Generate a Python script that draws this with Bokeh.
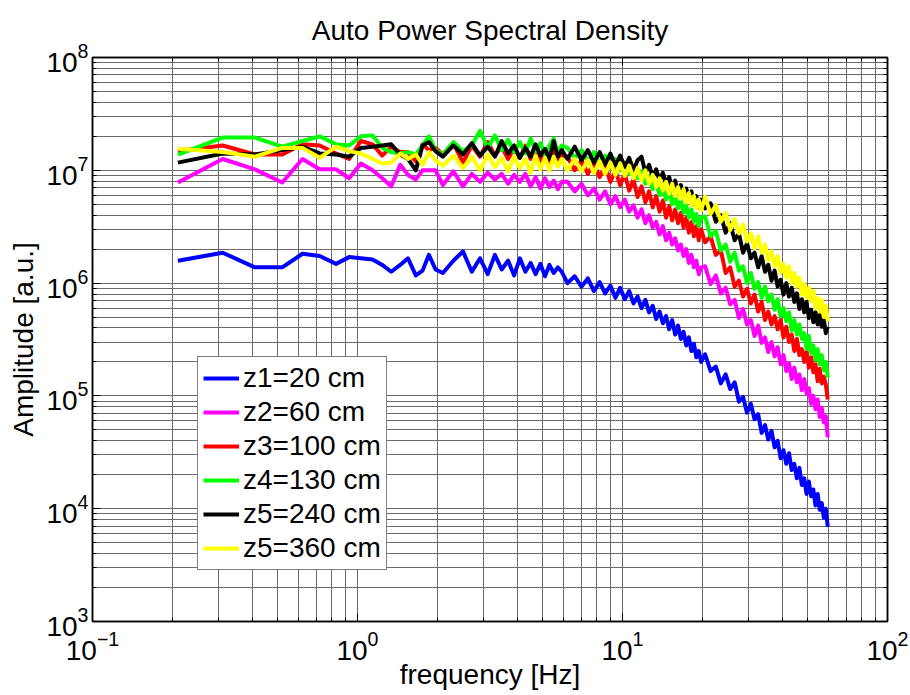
from bokeh.plotting import figure
from bokeh.models import LogAxis, Legend, LegendItem, FixedTicker, CustomJSTickFormatter
from bokeh.embed import file_html
from bokeh.resources import INLINE

# ---------------- data ----------------
frequency_hz = [
    0.21, 0.31, 0.41, 0.52, 0.62, 0.72, 0.83, 0.93, 1.03, 1.14, 1.24, 1.34, 1.45, 1.55, 1.66, 1.76, 1.86, 1.97,
    2.1, 2.3, 2.5, 2.7, 2.9, 3.1, 3.3, 3.5, 3.7, 3.9, 4.1, 4.3, 4.5, 4.7, 4.9, 5.1, 5.3, 5.5, 5.7, 5.9,
    6.2, 6.6, 7.0, 7.4, 7.8, 8.2, 8.6, 9.0, 9.4, 9.8, 10.2, 10.6, 11.0, 11.4, 11.8, 12.2, 12.6, 13.0, 13.4, 13.8,
    14.2, 14.6, 15.0, 15.4, 15.8, 16.2, 16.6, 17.0, 17.4, 17.8, 18.2, 18.6, 19.0, 19.4, 19.8,
    20.5, 21.5, 22.5, 23.5, 24.5, 25.5, 26.5, 27.5, 28.5, 29.5, 30.5, 31.5, 32.5, 33.5, 34.5, 35.5, 36.5, 37.5,
    38.5, 39.5, 40.5, 41.5, 42.5, 43.5, 44.5, 45.5, 46.5, 47.5, 48.5, 49.5, 50.5, 51.5, 52.5, 53.5, 54.5, 55.5,
    56.5, 57.5, 58.5, 59.5,
]

z1_20cm = [
    1.58e6, 1.86e6, 1.38e6, 1.38e6, 1.82e6, 1.74e6, 1.48e6, 1.70e6, 1.66e6, 1.62e6, 1.45e6, 1.26e6, 1.45e6, 1.66e6, 1.17e6, 1.29e6, 1.78e6, 1.32e6,
    1.23e6, 1.58e6, 1.91e6, 1.26e6, 1.66e6, 1.20e6, 1.78e6, 1.32e6, 1.58e6, 1.17e6, 1.66e6, 1.26e6, 1.51e6, 1.20e6, 1.48e6, 1.15e6, 1.45e6, 1.23e6, 1.38e6, 1.26e6,
    1.00e6, 1.15e6, 9.3e5, 1.10e6, 8.5e5, 1.02e6, 8.1e5, 9.5e5, 7.4e5, 9.1e5, 7.2e5, 8.5e5, 6.6e5, 7.6e5, 6.0e5, 7.1e5, 5.5e5, 6.3e5, 4.8e5, 5.6e5,
    4.4e5, 5.1e5, 3.9e5, 4.7e5, 3.5e5, 4.2e5, 3.2e5, 3.7e5, 2.8e5, 3.3e5, 2.5e5, 2.9e5, 2.2e5, 2.5e5, 2.0e5,
    2.34e5, 1.66e5, 1.82e5, 1.29e5, 1.55e5, 1.15e5, 1.32e5, 8.9e4, 9.8e4, 7.1e4, 8.5e4, 6.2e4, 6.9e4, 4.7e4, 5.5e4, 4.1e4, 4.9e4, 3.5e4,
    4.0e4, 2.8e4, 3.3e4, 2.5e4, 3.1e4, 2.2e4, 2.5e4, 1.86e4, 2.3e4, 1.62e4, 1.86e4, 1.35e4, 1.74e4, 1.29e4, 1.48e4, 1.07e4, 1.35e4, 9.8e3,
    1.12e4, 8.3e3, 1.0e4, 6.9e3,
]

z2_60cm = [
    7.8e6, 1.26e7, 1.02e7, 7.8e6, 1.26e7, 1.02e7, 1.02e7, 8.5e6, 1.15e7, 1.0e7, 8.5e6, 7.2e6, 1.12e7, 9.1e6, 8.3e6, 1.0e7, 1.0e7, 1.0e7,
    7.4e6, 9.8e6, 7.2e6, 9.3e6, 7.9e6, 9.5e6, 8.3e6, 9.3e6, 7.6e6, 9.1e6, 7.9e6, 9.3e6, 7.2e6, 8.7e6, 6.9e6, 8.5e6, 7.1e6, 8.1e6, 6.8e6, 7.9e6,
    7.9e6, 6.5e6, 7.6e6, 6.0e6, 6.9e6, 5.5e6, 6.5e6, 5.0e6, 5.9e6, 4.7e6, 5.5e6, 4.3e6, 4.9e6, 3.8e6, 4.5e6, 3.4e6, 4.0e6, 3.1e6, 3.5e6, 2.7e6,
    3.2e6, 2.4e6, 2.8e6, 2.2e6, 2.5e6, 1.95e6, 2.2e6, 1.74e6, 2.0e6, 1.51e6, 1.78e6, 1.38e6, 1.58e6, 1.20e6, 1.38e6,
    1.41e6, 9.8e5, 1.17e6, 8.1e5, 9.1e5, 6.5e5, 7.1e5, 4.9e5, 5.9e5, 4.3e5, 4.7e5, 3.4e5, 4.2e5, 2.95e5, 3.3e5, 2.45e5, 3.0e5, 2.24e5,
    2.7e5, 1.91e5, 2.3e5, 1.66e5, 1.95e5, 1.41e5, 1.78e5, 1.32e5, 1.55e5, 1.12e5, 1.41e5, 1.05e5, 1.17e5, 8.5e4, 1.0e5, 7.6e4, 9.3e4, 6.5e4,
    7.8e4, 5.8e4, 6.6e4, 4.3e4,
]

z3_100cm = [
    1.48e7, 1.66e7, 1.38e7, 1.38e7, 1.70e7, 1.66e7, 1.41e7, 1.26e7, 1.82e7, 1.70e7, 1.35e7, 1.62e7, 1.45e7, 1.45e7, 1.20e7, 1.70e7, 1.51e7, 1.58e7,
    1.38e7, 1.74e7, 1.17e7, 1.66e7, 1.32e7, 1.78e7, 1.35e7, 1.62e7, 1.26e7, 1.58e7, 1.29e7, 1.66e7, 1.26e7, 1.55e7, 1.20e7, 1.51e7, 1.17e7, 1.45e7, 1.12e7, 1.35e7,
    1.32e7, 1.0e7, 1.23e7, 9.3e6, 1.15e7, 8.7e6, 1.10e7, 7.9e6, 1.0e7, 7.4e6, 9.3e6, 6.6e6, 8.3e6, 5.8e6, 7.2e6, 5.2e6, 6.5e6, 4.7e6, 5.9e6, 4.3e6,
    5.4e6, 3.8e6, 4.8e6, 3.6e6, 4.5e6, 3.4e6, 4.2e6, 3.1e6, 3.8e6, 2.8e6, 3.5e6, 2.6e6, 3.2e6, 2.4e6, 3.0e6,
    2.3e6, 2.6e6, 1.78e6, 1.95e6, 1.23e6, 1.38e6, 9.3e5, 1.05e6, 7.6e5, 8.9e5, 6.6e5, 7.9e5, 5.6e5, 6.8e5, 4.7e5, 5.6e5, 4.3e5, 5.1e5,
    3.9e5, 4.7e5, 3.3e5, 4.1e5, 3.0e5, 3.5e5, 2.5e5, 3.2e5, 2.3e5, 2.6e5, 2.0e5, 2.5e5, 1.78e5, 2.2e5, 1.62e5, 1.91e5, 1.35e5, 1.74e5,
    1.29e5, 1.48e5, 1.26e5, 9.3e4,
]

z4_130cm = [
    1.38e7, 1.95e7, 1.95e7, 1.62e7, 1.82e7, 2.0e7, 1.70e7, 1.66e7, 2.0e7, 2.04e7, 1.58e7, 1.45e7, 1.41e7, 1.45e7, 1.38e7, 1.66e7, 2.0e7, 1.51e7,
    1.38e7, 1.78e7, 1.48e7, 1.66e7, 2.24e7, 1.58e7, 2.04e7, 1.51e7, 1.86e7, 1.45e7, 1.78e7, 1.41e7, 1.91e7, 1.48e7, 1.74e7, 1.38e7, 1.66e7, 1.91e7, 1.41e7, 1.66e7,
    1.58e7, 1.29e7, 1.51e7, 1.20e7, 1.45e7, 1.15e7, 1.35e7, 1.07e7, 1.26e7, 1.0e7, 1.17e7, 9.3e6, 1.07e7, 8.5e6, 9.8e6, 7.6e6, 8.9e6, 6.8e6, 7.8e6, 6.0e6,
    7.1e6, 5.5e6, 6.5e6, 5.0e6, 5.9e6, 4.6e6, 5.4e6, 4.2e6, 4.9e6, 3.8e6, 4.5e6, 3.5e6, 4.1e6, 3.2e6, 3.8e6,
    3.9e6, 2.6e6, 2.9e6, 1.95e6, 2.2e6, 1.55e6, 1.86e6, 1.29e6, 1.41e6, 1.0e6, 1.23e6, 8.9e5, 1.02e6, 7.4e5, 9.3e5, 6.9e5, 7.9e5, 5.8e5,
    7.2e5, 5.1e5, 6.0e5, 4.6e5, 5.5e5, 3.8e5, 4.7e5, 3.5e5, 4.3e5, 3.2e5, 3.6e5, 2.6e5, 3.4e5, 2.4e5, 2.8e5, 2.1e5, 2.6e5, 1.91e5,
    2.3e5, 1.70e5, 2.0e5, 1.45e5,
]

z5_240cm = [
    1.17e7, 1.41e7, 1.38e7, 1.51e7, 1.62e7, 1.41e7, 1.38e7, 1.32e7, 1.58e7, 1.62e7, 1.66e7, 1.70e7, 1.38e7, 1.26e7, 1.0e7, 1.66e7, 1.78e7, 1.48e7,
    1.32e7, 1.66e7, 1.38e7, 1.74e7, 1.35e7, 1.62e7, 1.32e7, 1.82e7, 1.41e7, 1.66e7, 1.29e7, 1.58e7, 1.32e7, 1.70e7, 1.35e7, 1.55e7, 1.26e7, 1.82e7, 1.32e7, 1.51e7,
    1.26e7, 1.62e7, 1.23e7, 1.51e7, 1.17e7, 1.45e7, 1.12e7, 1.41e7, 1.10e7, 1.35e7, 1.07e7, 1.29e7, 1.0e7, 1.23e7, 1.32e7, 9.5e6, 1.12e7, 8.7e6, 1.02e7, 8.1e6,
    9.5e6, 7.6e6, 8.7e6, 6.9e6, 8.1e6, 6.3e6, 7.4e6, 5.9e6, 6.9e6, 5.5e6, 6.5e6, 5.0e6, 5.9e6, 4.7e6, 5.5e6,
    4.6e6, 5.1e6, 3.5e6, 4.0e6, 2.8e6, 3.4e6, 2.4e6, 2.75e6, 1.86e6, 2.24e6, 1.66e6, 1.86e6, 1.38e6, 1.74e6, 1.26e6, 1.45e6, 1.05e6, 1.29e6,
    9.3e5, 1.07e6, 7.9e5, 1.0e6, 7.6e5, 9.1e5, 6.8e5, 8.1e5, 5.9e5, 7.2e5, 5.5e5, 6.8e5, 4.9e5, 5.8e5, 4.5e5, 5.5e5, 4.3e5, 5.2e5,
    4.1e5, 4.8e5, 3.6e5, 4.1e5,
]

z5_360cm = [
    1.55e7, 1.45e7, 1.32e7, 1.58e7, 1.58e7, 1.29e7, 1.62e7, 1.48e7, 1.41e7, 1.26e7, 1.15e7, 1.17e7, 1.41e7, 1.26e7, 1.38e7, 1.12e7, 1.45e7, 1.23e7,
    1.10e7, 1.35e7, 1.05e7, 1.32e7, 1.0e7, 1.38e7, 1.07e7, 1.29e7, 9.8e6, 1.32e7, 1.05e7, 1.26e7, 9.5e6, 1.35e7, 1.02e7, 1.29e7, 1.0e7, 1.32e7, 1.07e7, 1.26e7,
    1.0e7, 1.26e7, 9.8e6, 1.23e7, 9.5e6, 1.20e7, 9.3e6, 1.17e7, 9.1e6, 1.15e7, 8.9e6, 1.10e7, 8.5e6, 1.05e7, 8.1e6, 1.0e7, 7.6e6, 9.1e6, 7.1e6, 8.5e6,
    6.6e6, 7.9e6, 6.2e6, 7.6e6, 5.9e6, 7.1e6, 5.6e6, 6.8e6, 5.2e6, 6.3e6, 4.9e6, 5.9e6, 4.6e6, 5.5e6, 4.4e6,
    5.8e6, 4.1e6, 4.9e6, 3.5e6, 4.2e6, 2.95e6, 3.7e6, 2.75e6, 3.3e6, 2.34e6, 2.75e6, 2.04e6, 2.6e6, 1.86e6, 2.19e6, 1.58e6, 1.91e6, 1.41e6,
    1.74e6, 1.23e6, 1.48e6, 1.12e6, 1.41e6, 1.0e6, 1.23e6, 9.3e5, 1.12e6, 7.9e5, 9.8e5, 7.4e5, 9.1e5, 6.9e5, 8.5e5, 6.0e5, 7.4e5, 5.6e5,
    7.1e5, 5.0e5, 6.3e5, 4.6e5,
]

series_values = [z1_20cm, z2_60cm, z3_100cm, z4_130cm, z5_240cm, z5_360cm]
series_labels = ["z1=20 cm", "z2=60 cm", "z3=100 cm", "z4=130 cm", "z5=240 cm", "z5=360 cm"]
series_colors = ["#0000ff", "#ff00ff", "#ff0000", "#00ff00", "#000000", "#ffff00"]

x_major = [0.1, 1, 10, 100]
y_major = [1e3, 1e4, 1e5, 1e6, 1e7, 1e8]
x_minor = [m * d for d in (0.1, 1, 10) for m in range(2, 10)]
y_minor = [m * d for d in (1e3, 1e4, 1e5, 1e6, 1e7) for m in range(2, 10)]

FONT = "Liberation Sans"
GRID = "#6a6a6a"

p = figure(width=910, height=695, x_axis_type="log", y_axis_type="log",
           x_range=(0.1, 100), y_range=(1e3, 1e8),
           output_backend="svg", toolbar_location=None,
           title="Auto Power Spectral Density",
           min_border_left=92, min_border_right=23, min_border_top=56, min_border_bottom=74)

p.background_fill_color = "white"
p.border_fill_color = "white"
p.outline_line_color = "black"
p.outline_line_width = 1.5

p.title.text_font = FONT
p.title.text_font_size = "28px"
p.title.text_font_style = "normal"
p.title.align = "center"
p.title.text_color = "black"
p.title.standoff = 24

xt = FixedTicker(ticks=x_major, minor_ticks=x_minor)
yt = FixedTicker(ticks=y_major, minor_ticks=y_minor)

for ax, tk in ((p.xaxis[0], xt), (p.yaxis[0], yt)):
    ax.ticker = tk
    ax.major_label_text_font = FONT
    ax.major_label_text_font_size = "28px"
    ax.major_label_text_color = "black"
    ax.axis_label_text_font = FONT
    ax.axis_label_text_font_size = "28px"
    ax.axis_label_text_font_style = "normal"
    ax.axis_label_text_color = "black"
    ax.axis_line_color = "black"
    ax.axis_line_width = 1.5
    ax.major_tick_in = 8
    ax.major_tick_out = 0
    ax.minor_tick_in = 4
    ax.minor_tick_out = 0
    ax.major_tick_line_color = "black"
    ax.minor_tick_line_color = "black"

p.xaxis.axis_label = "frequency [Hz]"
p.yaxis.axis_label = "Amplitude [a.u.]"
p.xaxis.major_label_standoff = 9
p.xaxis.axis_label_standoff = -4
p.yaxis.major_label_standoff = 4
p.yaxis.axis_label_standoff = 4

for side, tk in (("above", xt), ("right", yt)):
    a = LogAxis(ticker=tk, formatter=CustomJSTickFormatter(code="return ' '"),
                major_label_text_font_size="2px", major_label_text_alpha=0.0, major_label_standoff=0,
                major_tick_in=8, major_tick_out=0, minor_tick_in=4, minor_tick_out=0,
                axis_line_color="black", axis_line_width=1.5,
                major_tick_line_color="black", minor_tick_line_color="black")
    p.add_layout(a, side)

for g in (p.xgrid[0], p.ygrid[0]):
    g.grid_line_color = GRID
    g.grid_line_width = 1
    g.minor_grid_line_color = GRID
    g.minor_grid_line_width = 1
p.xgrid[0].ticker = xt
p.ygrid[0].ticker = yt

items = []
for vals, lab, col in zip(series_values, series_labels, series_colors):
    assert len(vals) == len(frequency_hz)
    r = p.line(frequency_hz, vals, line_color=col, line_width=4, line_join="round")
    items.append(LegendItem(label=lab, renderers=[r]))

legend = Legend(items=items, location=(105, 51),
                label_text_font=FONT, label_text_font_size="28px", label_text_color="black",
                glyph_width=36, glyph_height=30, label_height=30, label_standoff=4,
                spacing=2, padding=5, margin=0,
                border_line_color="black", border_line_width=1.5,
                background_fill_color="white", background_fill_alpha=1.0)
p.add_layout(legend)

open("out.html", "w").write(file_html(p, INLINE))
